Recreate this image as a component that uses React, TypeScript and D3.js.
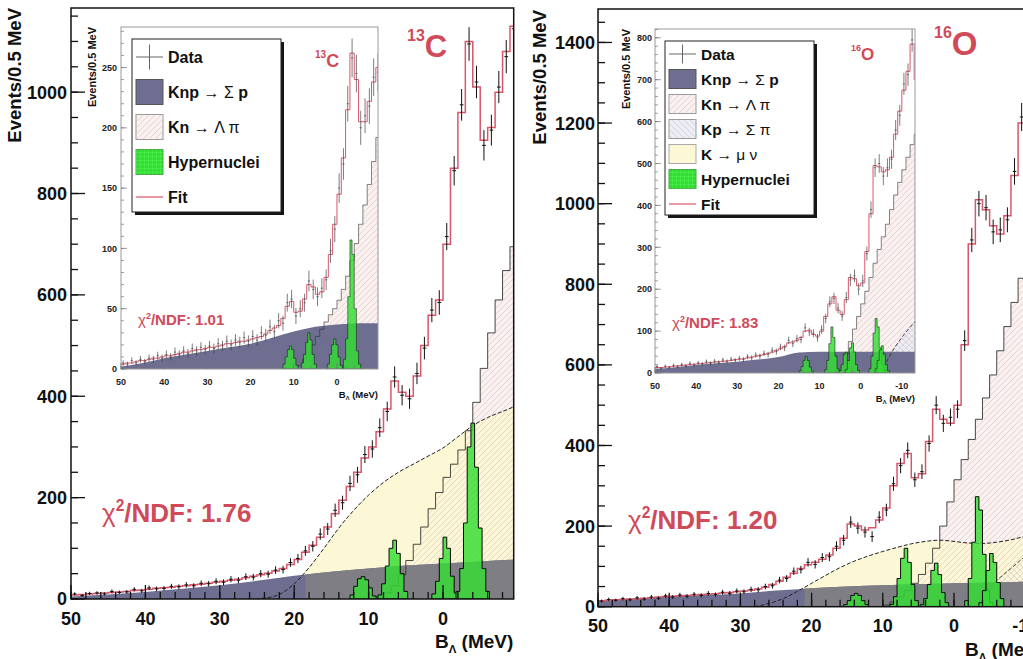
import React from 'react';
import * as d3 from 'd3';

// ---------------- DATA ----------------
// 1-MeV bins, first bin upper edge = 50 MeV, running toward negative B_Lambda
const fitL = [8,9,10,11,12,13,14,15,17,18, 19,21,22,23,25,26,28,29,31,33, 35,37,39,42,45,48,51,55,60,68, 78,92,106,122,142,168,195,222,250,278, 300,330,375,430,408,400,440,500,560,590, 700,850,960,1100,1010,905,930,1000,1080,1130];
const dataL = [10,7,11,12,10,15,13,14,19,16, 22,20,21,25,24,28,26,31,30,35, 33,39,37,44,43,50,49,57,58,72, 80,95,104,128,138,175,190,228,245,285, 296,338,370,438,402,395,445,495,570,585, 715,845,975,1095,1020,895,925,1010,1070,1125];
const fitR = [15,16,17,18,19,20,21,22,24,25, 26,27,28,29,30,31,32,34,35,37, 39,41,44,48,55,63,73,83,95,104, 110,118,128,145,170,205,200,190,196,215, 245,300,355,380,320,330,410,490,465,455, 500,650,900,1010,985,945,925,970,1070,1200, 1260];
const dataR = [14,18,16,20,17,22,19,24,21,27, 24,29,26,31,28,33,30,36,33,39, 37,43,42,50,52,66,70,88,92,110, 105,122,124,150,165,210,195,185,174,222, 240,305,350,388,315,335,405,500,455,470, 490,660,910,1000,990,930,935,960,1080,1215, 1250];
const fitIL = [4,5,5,6,7,7,8,9,9,10, 11,11,12,13,14,14,15,16,16,17, 18,18,19,20,21,21,22,23,23,24, 25,26,27,29,32,34,36,42,52,56, 47,48,58,70,68,62,64,76,95,120, 145,175,215,262,240,205,205,222,238,250];
const dataIL = [5,4,7,5,8,6,9,8,11,9, 12,10,14,12,15,13,17,15,18,16, 19,17,21,19,23,20,24,22,26,23, 27,24,30,28,35,31,40,38,55,58, 44,50,55,73,66,60,67,74,98,116, 150,170,220,258,245,200,210,218,242,246];
const fitIO = [13,13,14,15,16,17,18,19,20,21, 22,23,24,25,26,27,28,29,30,32, 33,34,36,38,40,42,44,47,50,54, 58,63,72,74,78,85,100,102,92,88, 100,135,165,182,150,140,175,228,225,208, 215,290,380,495,492,480,485,515,570,625, 675,720,785,700];
const dataIO = [15,11,16,13,18,15,20,17,23,19, 24,21,27,23,28,25,31,27,33,30, 35,32,39,36,43,40,47,44,54,51, 62,60,78,70,82,80,108,98,95,84, 104,130,170,178,155,136,180,222,232,200, 220,285,390,490,500,470,490,510,580,615, 690,712,795,690];

// Knp -> Sigma p (smooth), knots in MeV
const knpM = [50,45,40,35,30,25,20,15,10,5,0,-5,-10,-15];
const knpL = [5,9,14,20,27,36,46,54,60,66,70,74,78,80];
const knpR = [15,20,25,29,33,40,46,50,53,56,58,60,62,64];
const knpIL = [2,5,9,12,15,18,21,26,31,35,37,38,38,38];
const knpIO = [10,14,19,23,27,32,38,49,51,51,51,51,51,51];

// K -> mu nu (smooth)
const yelML = [26,24,22,20,18,16,14,12,10,8,6,4,2,0,-2,-4,-6,-8,-10];
const yelL = [0,2,9,30,62,100,140,175,205,230,250,266,282,298,320,342,358,370,382];
const yelMR = [28,26,24,22,20,18,16,14,12,10,8,6,4,2,0,-2,-4,-6,-8,-10,-15];
const yelR = [0,8,20,38,58,78,97,113,126,137,147,156,162,165,162,158,157,160,166,175,200];

// Kp -> Sigma pi (smooth)
const kpMR = [-2,-4,-6,-8,-10,-12,-15];
const kpR = [0,30,65,95,125,150,185];
const kpMIO = [-5,-7,-10,-13.5];
const kpIO = [0,40,85,125];

// Kn -> Lambda pi (1-MeV step histograms)
const knStartL = 9;
const knL = [4,12,26,48,76,108,142,178,210,240,266,294,332,388,455,525,590,648,695];
const knStartR = 10;
const knR = [4,12,24,40,58,80,108,145,200,260,315,365,415,465,518,575,635,695,755,815,875];
const knStartIL = 9;
const knIL = [3,8,14,20,27,33,39,45,50,57,66,77,90,104,120,136,153,172,192];
const knStartIO = 5;
const knIO = [15,45,75,105,135,165,195,228,262,295,325,355,390,425,455,485,515,545,570];

// Hypernuclei peaks (0.5-MeV bins)
const hypStartsL = [12.5, 8.75, 1.5, -1.75];
const hypL = [[8,25,40,44,38,22,6],[8,30,65,100,116,90,50,15],[10,35,80,122,100,45,12],[15,60,150,300,347,260,140,60,15]];
const hypStartsR = [15.5, 9, 4.75, -1.5, -3.5];
const hypR = [[5,15,28,33,28,15,5],[6,25,70,120,145,110,55,15],[5,20,55,90,108,80,35,10],[15,70,160,273,240,130,40,10],[10,40,90,132,110,60,20]];
const hypStartsIL = [12.5, 8.25, 2.25, -1.5];
const hypIL = [[4,10,16,19,16,9,3],[5,12,22,30,24,12,4],[4,12,20,25,20,10,3],[8,25,60,107,95,50,15,4]];
const hypStartsIO = [15, 8.75, 5.25, 3.75, -2, -3.5];
const hypIO = [[5,15,30,39,30,14,4],[8,30,70,110,85,40,10],[6,20,45,50,30,10],[8,30,60,72,50,20,6],[10,40,95,130,110,60,20,5],[10,30,55,65,45,20,5]];

const xTicksL = [50,40,30,20,10,0];
const xTicksR = [50,40,30,20,10,0,-10];
const legendLabelsL = [['Data'],['Knp ','\u2192 \u03a3',' p'],['Kn ','\u2192 \u039b \u03c0'],['Hypernuclei'],['Fit']];
const legendKindsL = ['data','knp','kn','hyp','fit'];
const legendLabelsR = [['Data'],['Knp ','\u2192 \u03a3',' p'],['Kn ','\u2192 \u039b \u03c0'],['Kp ','\u2192 \u03a3 \u03c0'],['K ','\u2192 \u03bc \u03bd'],['Hypernuclei'],['Fit']];
const legendKindsR = ['data','knp','kn','kp','mu','hyp','fit'];

// ---------------- STYLE ----------------
const FONT = "'Liberation Sans', Arial, Helvetica, sans-serif";
const RED = '#d04a5a';
const KNPCOL = '#6e6e90';
const GREYCOL = '#7f7e84';
const PINK = '#f9f0f0';
const YELLOW = '#fcf7d4';
const KPCOL = '#eceef4';
const GREEN = '#33dd33';
const FITCOL = '#d9566b';

type Pt = [number, number];

interface Cfg {
  id: string; left: number; right: number; top: number; bottom: number;
  xDom: [number, number]; yMax: number; yMajor: number; yMinor: number;
  xTicks: number[]; inset: boolean;
  fit: number[]; data: number[];
  knp: number[]; knpSplit: number | null;
  yelM?: number[]; yel?: number[]; kpM?: number[]; kp?: number[];
  knStart: number; kn: number[];
  hypStarts: number[]; hyp: number[][];
  tickFont: number; yLabX: number; xLabY: number;
  majLen: number; minLen: number;
  yTitle: [number, number, number]; xTitle: [number, number, number, string];
}

function Panel({ c }: { c: Cfg }) {
  const x = d3.scaleLinear().domain(c.xDom).range([c.left, c.right]);
  const y = d3.scaleLinear().domain([0, c.yMax]).range([c.bottom, c.top]);
  const line = d3.line<Pt>().x(d => x(d[0])).y(d => y(d[1]));
  const hist = (start: number, w: number, vals: number[]): Pt[] => {
    const pts: Pt[] = [];
    vals.forEach((v, i) => { pts.push([start - i * w, v], [start - (i + 1) * w, v]); });
    return pts;
  };
  const histArea = (start: number, w: number, vals: number[]) =>
    (line([[start, 0], ...hist(start, w, vals), [start - vals.length * w, 0]]) || '') + 'Z';
  const histLine = (start: number, w: number, vals: number[]) => line(hist(start, w, vals)) || '';
  const zip = (ms: number[], vs: number[]): Pt[] => ms.map((m, i) => [m, vs[i]]);
  const sArea = d3.area<Pt>().x(d => x(d[0])).y0(y(0)).y1(d => y(d[1])).curve(d3.curveMonotoneX);
  const sLine = d3.line<Pt>().x(d => x(d[0])).y(d => y(d[1])).curve(d3.curveMonotoneX);
  const W = c.right - c.left, H = c.bottom - c.top;
  const lw = c.inset ? 0.7 : 1;
  const knpPath = sArea(zip(knpM, c.knp)) || '';
  const yMaj = d3.range(0, c.yMax + 0.01, c.yMajor);
  const yMin = d3.range(0, c.yMax, c.yMinor);
  const xMin = d3.range(50, -21, -2).filter(m => m >= c.xDom[1]);
  const dMin = c.xDom[1];
  return (
    <g fontFamily={FONT}>
      <defs>
        <clipPath id={`clip-${c.id}`}><rect x={c.left} y={c.top} width={W} height={H} /></clipPath>
        {c.knpSplit !== null && (
          <clipPath id={`split-${c.id}`}><rect x={x(c.knpSplit)} y={c.top} width={c.right - x(c.knpSplit)} height={H} /></clipPath>
        )}
      </defs>
      <rect x={c.left} y={c.top} width={W} height={H} fill="white" />
      <g clipPath={`url(#clip-${c.id})`}>
        <path d={histArea(c.knStart, 1, c.kn)} fill={PINK} />
        {c.kp && c.kpM && <path d={sArea(zip(c.kpM, c.kp)) || ''} fill={KPCOL} />}
        {c.yel && c.yelM && <path d={sArea(zip(c.yelM, c.yel)) || ''} fill={YELLOW} />}
        <path d={histArea(c.knStart, 1, c.kn)} fill="url(#hatchPink)" />
        {c.kp && c.kpM && <path d={sArea(zip(c.kpM, c.kp)) || ''} fill="url(#hatchBlue)" />}
        <path d={knpPath} fill={KNPCOL} />
        {c.knpSplit !== null && <path d={knpPath} fill={GREYCOL} clipPath={`url(#split-${c.id})`} />}
        {c.yel && c.yelM && <path d={sLine(zip(c.yelM, c.yel)) || ''} fill="none" stroke="#222" strokeWidth={1} strokeDasharray="4 2" />}
        <path d={histLine(c.knStart, 1, c.kn)} fill="none" stroke="#333" strokeWidth={c.inset ? 0.6 : 0.9} />
        {c.kp && c.kpM && <path d={sLine(zip(c.kpM, c.kp)) || ''} fill="none" stroke="#333" strokeWidth={0.9} strokeDasharray="4 2" />}
        {c.hyp.map((v, i) => (
          <path key={i} d={histArea(c.hypStarts[i], 0.5, v)} fill={GREEN} fillOpacity={0.82} stroke="#0a0a0a" strokeWidth={c.inset ? 0.5 : 1} />
        ))}
        <path d={histLine(50, 1, c.fit)} fill="none" stroke={FITCOL} strokeWidth={c.inset ? 1 : 1.5} />
        <g stroke={c.inset ? '#444' : '#111'} strokeWidth={lw}>
          {c.data.map((v, i) => {
            const m = 50 - (i + 0.5);
            if (m < dMin - 1) return null;
            const e = Math.sqrt(v);
            return (
              <g key={i}>
                <line x1={x(m + 0.25)} x2={x(m - 0.25)} y1={y(v)} y2={y(v)} />
                <line x1={x(m)} x2={x(m)} y1={y(v - e)} y2={y(v + e)} />
              </g>
            );
          })}
        </g>
      </g>
      <rect x={c.left} y={c.top} width={W} height={H} fill="none" stroke={c.inset ? '#9a9a9a' : '#111'} strokeWidth={c.inset ? 1 : 1.5} />
      <g stroke={c.inset ? '#777' : '#111'} strokeWidth={c.inset ? 0.7 : 1.3}>
        {yMin.map(v => <line key={'n' + v} x1={c.left} x2={c.left + c.minLen} y1={y(v)} y2={y(v)} />)}
        {yMaj.map(v => <line key={'j' + v} x1={c.left} x2={c.left + c.majLen} y1={y(v)} y2={y(v)} />)}
        {xMin.map(m => <line key={'xm' + m} x1={x(m)} x2={x(m)} y1={c.bottom} y2={c.bottom - c.minLen} />)}
        {c.xTicks.map(m => <line key={'xj' + m} x1={x(m)} x2={x(m)} y1={c.bottom} y2={c.bottom - c.majLen} />)}
      </g>
      <g fontWeight="bold" fontSize={c.tickFont} fill={c.inset ? '#222' : '#111'}>
        {yMaj.map(v => <text key={'yl' + v} x={c.yLabX} y={y(v)} dy="0.36em" textAnchor="end">{v}</text>)}
        {c.xTicks.map(m => <text key={'xl' + m} x={x(m)} y={c.xLabY} textAnchor="middle">{m}</text>)}
      </g>
      <text transform={`translate(${c.yTitle[0]},${c.yTitle[1]}) rotate(-90)`} textAnchor="end" fontWeight="bold" fontSize={c.yTitle[2]} fill="#111">Events/0.5 MeV</text>
      <text x={c.xTitle[0]} y={c.xTitle[1]} textAnchor={c.xTitle[3]} fontWeight="bold" fontSize={c.xTitle[2]} fill="#111">
        B<tspan fontSize={c.xTitle[2] * 0.6} dy={c.xTitle[2] * 0.25}>{'\u039b'}</tspan>
        <tspan dy={-c.xTitle[2] * 0.25}> (MeV)</tspan>
      </text>
    </g>
  );
}

function Legend({ x0, y0, w, h, row0, step, sw, sh, fs, kinds, labels }:
  { x0: number; y0: number; w: number; h: number; row0: number; step: number; sw: number; sh: number; fs: number; kinds: string[]; labels: string[][] }) {
  const sx = x0 + 4;
  return (
    <g fontFamily={FONT}>
      <rect x={x0 + 3} y={y0 + 3} width={w} height={h} fill="#151515" />
      <rect x={x0} y={y0} width={w} height={h} fill="white" stroke="#222" strokeWidth={1} />
      {kinds.map((k, i) => {
        const cy = row0 + i * step;
        let sw2: React.ReactNode = null;
        const r = (fill: string, stroke = '#777') => <rect x={sx} y={cy - sh / 2} width={sw} height={sh} fill={fill} stroke={stroke} strokeWidth={1} />;
        if (k === 'data') sw2 = (<g stroke="#666" strokeWidth={1}><line x1={sx} x2={sx + sw} y1={cy} y2={cy} /><line x1={sx + sw / 2} x2={sx + sw / 2} y1={cy - sh / 2} y2={cy + sh / 2} /></g>);
        if (k === 'knp') sw2 = r(KNPCOL, '#555');
        if (k === 'kn') sw2 = <g>{r(PINK, '#999')}<rect x={sx} y={cy - sh / 2} width={sw} height={sh} fill="url(#hatchPink)" /></g>;
        if (k === 'kp') sw2 = <g>{r(KPCOL, '#999')}<rect x={sx} y={cy - sh / 2} width={sw} height={sh} fill="url(#hatchBlue)" /></g>;
        if (k === 'mu') sw2 = r(YELLOW, '#aaa');
        if (k === 'hyp') sw2 = <g>{r(GREEN, '#4a4')}<rect x={sx} y={cy - sh / 2} width={sw} height={sh} fill="url(#gridGreen)" /></g>;
        if (k === 'fit') sw2 = <line x1={sx} x2={sx + sw} y1={cy} y2={cy} stroke={FITCOL} strokeWidth={1.2} />;
        return (
          <g key={k}>
            {sw2}
            <text x={sx + sw + 5} y={cy} dy="0.36em" fontSize={fs} fontWeight="bold" fill="#111">
              {labels[i].map((p, j) => <tspan key={j} fontWeight={j % 2 === 1 ? 'normal' : 'bold'}>{p}</tspan>)}
            </text>
          </g>
        );
      })}
    </g>
  );
}

function Nucleus({ x, y, mass, sym, big, small }: { x: number; y: number; mass: string; sym: string; big: number; small: number }) {
  return (
    <text x={x} y={y} fontFamily={FONT} fontWeight="bold" fill={RED}>
      <tspan fontSize={small} dy={-big * 0.52}>{mass}</tspan>
      <tspan fontSize={big} dy={big * 0.52}>{sym}</tspan>
    </text>
  );
}

function Chi({ x, y, size, val }: { x: number; y: number; size: number; val: string }) {
  return (
    <text x={x} y={y} fontFamily={FONT} fontSize={size} fontWeight="bold" fill={RED}>
      <tspan fontWeight="normal">{'\u03c7'}</tspan>
      <tspan fontSize={size * 0.6} dy={-size * 0.42}>2</tspan>
      <tspan dy={size * 0.42}>/NDF: {val}</tspan>
    </text>
  );
}

const cfgL: Cfg = {
  id: 'L', left: 71, right: 513.7, top: 8, bottom: 599, xDom: [50, -9.5], yMax: 1166, yMajor: 200, yMinor: 50,
  xTicks: xTicksL, inset: false, fit: fitL, data: dataL, knp: knpL, knpSplit: 18.5,
  yelM: yelML, yel: yelL, knStart: knStartL, kn: knL, hypStarts: hypStartsL, hyp: hypL,
  tickFont: 18, yLabX: 67, xLabY: 625, majLen: 14, minLen: 7,
  yTitle: [21, 8, 18.5], xTitle: [435, 648, 19, 'start'],
};
const cfgR: Cfg = {
  id: 'R', left: 598, right: 1060.8, top: 9, bottom: 606.7, xDom: [50, -15], yMax: 1483, yMajor: 200, yMinor: 50,
  xTicks: xTicksR, inset: false, fit: fitR, data: dataR, knp: knpR, knpSplit: 21,
  yelM: yelMR, yel: yelR, kpM: kpMR, kp: kpR, knStart: knStartR, kn: knR, hypStarts: hypStartsR, hyp: hypR,
  tickFont: 18, yLabX: 595, xLabY: 632, majLen: 14, minLen: 7,
  yTitle: [546, 10, 18.5], xTitle: [965, 656, 19, 'start'],
};
const cfgIL: Cfg = {
  id: 'IL', left: 121, right: 378, top: 27, bottom: 369, xDom: [50, -9.5], yMax: 283.6, yMajor: 50, yMinor: 10,
  xTicks: xTicksL, inset: true, fit: fitIL, data: dataIL, knp: knpIL, knpSplit: null,
  knStart: knStartIL, kn: knIL, hypStarts: hypStartsIL, hyp: hypIL,
  tickFont: 9, yLabX: 117, xLabY: 385, majLen: 6, minLen: 3,
  yTitle: [96, 27, 11], xTitle: [378, 398, 9.5, 'end'],
};
const cfgIO: Cfg = {
  id: 'IO', left: 655, right: 915, top: 29, bottom: 373, xDom: [50, -13.2], yMax: 821, yMajor: 100, yMinor: 20,
  xTicks: xTicksR, inset: true, fit: fitIO, data: dataIO, knp: knpIO, knpSplit: null,
  kpM: kpMIO, kp: kpIO, knStart: knStartIO, kn: knIO, hypStarts: hypStartsIO, hyp: hypIO,
  tickFont: 9, yLabX: 652, xLabY: 389, majLen: 6, minLen: 3,
  yTitle: [630, 29, 11], xTitle: [915, 402, 9.5, 'end'],
};

export default function App() {
  return (
    <svg width={1023} height={659} viewBox="0 0 1023 659" style={{ position: 'absolute', left: 0, top: 0, background: 'white' }}>
      <defs>
        <pattern id="hatchPink" width={6} height={6} patternUnits="userSpaceOnUse">
          <path d="M-1,1 l2,-2 M0,6 l6,-6 M5,7 l2,-2" stroke="#e3bcc0" strokeWidth={0.6} />
        </pattern>
        <pattern id="hatchBlue" width={6} height={6} patternUnits="userSpaceOnUse">
          <path d="M-1,5 l2,2 M0,0 l6,6 M5,-1 l2,2" stroke="#c0c4d4" strokeWidth={0.6} />
        </pattern>
        <pattern id="gridGreen" width={4} height={4} patternUnits="userSpaceOnUse">
          <path d="M0,0 h4 M0,0 v4" stroke="#6f6" strokeWidth={0.6} />
        </pattern>
      </defs>
      <rect x={0} y={0} width={1023} height={659} fill="white" />
      <Panel c={cfgL} />
      <Panel c={cfgR} />
      <Panel c={cfgIL} />
      <Panel c={cfgIO} />
      <Legend x0={132} y0={39} w={149} h={173} row0={57} step={35} sw={27} sh={25} fs={16} kinds={legendKindsL} labels={legendLabelsL} />
      <Legend x0={665} y0={41} w={149} h={174} row0={54} step={25} sw={27} sh={19} fs={15.5} kinds={legendKindsR} labels={legendLabelsR} />
      <Nucleus x={407} y={57} mass="13" sym="C" big={31} small={16} />
      <Nucleus x={934} y={55} mass="16" sym="O" big={33} small={16} />
      <Nucleus x={315} y={67} mass="13" sym="C" big={18} small={10} />
      <Nucleus x={851} y={60} mass="16" sym="O" big={17} small={9} />
      <Chi x={102} y={522} size={26} val="1.76" />
      <Chi x={628} y={529} size={26} val="1.20" />
      <Chi x={138} y={325} size={15} val="1.01" />
      <Chi x={672} y={328} size={15} val="1.83" />
    </svg>
  );
}
